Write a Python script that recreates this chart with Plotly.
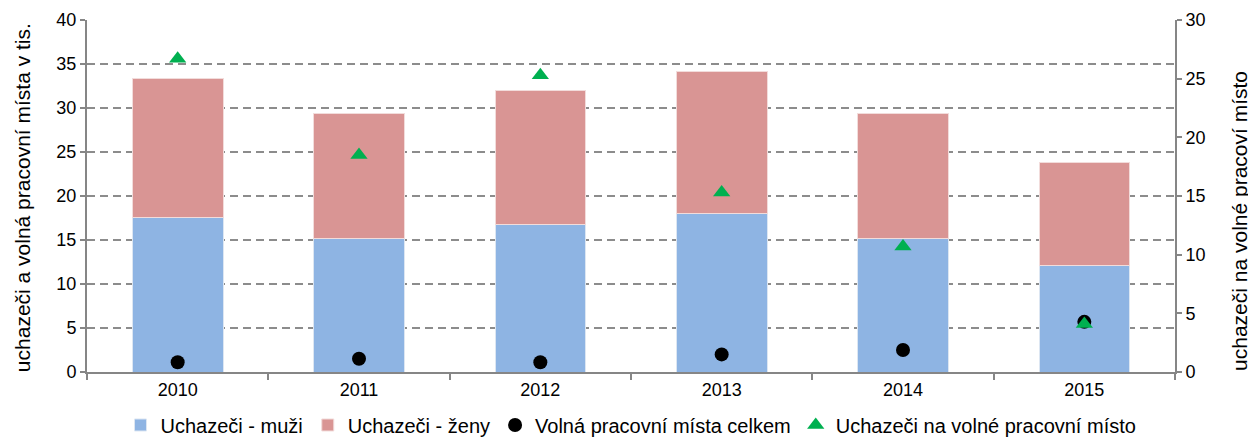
import plotly.graph_objects as go

years = ["2010", "2011", "2012", "2013", "2014", "2015"]
muzi = [17.6, 15.2, 16.8, 18.0, 15.2, 12.1]
zeny = [15.8, 14.2, 15.2, 16.1, 14.2, 11.7]
volna_mista = [1.1, 1.5, 1.1, 2.0, 2.5, 5.7]
uchazeci_na_misto = [26.7, 18.5, 25.3, 15.3, 10.7, 4.1]

left_ticks = [0, 5, 10, 15, 20, 25, 30, 35, 40]
right_ticks = [0, 5, 10, 15, 20, 25, 30]
left_title = "uchazeči a volná pracovní místa v tis."
right_title = "uchazeči na volné pracoví místo"

font_family = "Liberation Sans, Arial, sans-serif"
axis_color = "#868686"

fig = go.Figure()
fig.add_trace(go.Bar(x=years, y=muzi, name="Uchazeči - muži",
                     marker=dict(color="#8EB4E3", line=dict(color="#DCE6F2", width=1))))
fig.add_trace(go.Bar(x=years, y=zeny, name="Uchazeči - ženy",
                     marker=dict(color="#D99594", line=dict(color="#F2DCDB", width=1))))
fig.add_trace(go.Scatter(x=years, y=volna_mista, name="Volná pracovní místa celkem",
                         mode="markers", marker=dict(symbol="circle", size=14, color="black")))
fig.add_trace(go.Scatter(x=years, y=uchazeci_na_misto, name="Uchazeči na volné pracovní místo",
                         mode="markers", yaxis="y2",
                         marker=dict(symbol="triangle-up", size=15, color="#00B050")))

fig.update_layout(
    width=1248, height=429,
    margin=dict(l=79, r=81, t=12, b=65),
    barmode="stack", bargap=0.5,
    plot_bgcolor="white", paper_bgcolor="white",
    font=dict(family=font_family, size=18, color="black"),
    showlegend=True,
    legend=dict(orientation="h", x=0.5, xanchor="center", xref="paper",
                y=0.028, yanchor="middle", yref="container",
                font=dict(size=20), itemwidth=30, traceorder="normal", tracegroupgap=0),
    xaxis=dict(type="category", showline=True, linecolor=axis_color, linewidth=2,
               ticks="outside", tickson="boundaries", ticklen=6, tickcolor=axis_color,
               tickwidth=2, tickfont=dict(size=18), showgrid=False, automargin=False),
    yaxis=dict(range=[0, 40], tickvals=left_ticks, showline=True, linecolor=axis_color,
               linewidth=2, ticks="outside", ticklen=5, tickcolor=axis_color, tickwidth=2,
               showgrid=True, gridcolor="#8C8C8C", griddash="8px,5px", gridwidth=1.8,
               zeroline=False, tickfont=dict(size=18), automargin=False),
    yaxis2=dict(range=[0, 30], tickvals=right_ticks, overlaying="y", side="right",
                showline=True, linecolor=axis_color, linewidth=2, ticks="outside",
                ticklen=5, tickcolor=axis_color, tickwidth=2, showgrid=False, zeroline=False,
                tickfont=dict(size=18), automargin=False),
    annotations=[
        dict(text=left_title, textangle=-90, xref="paper", yref="paper",
             x=-0.0597, y=0.494, xanchor="center", yanchor="middle", showarrow=False,
             font=dict(size=21)),
        dict(text=right_title, textangle=-90, xref="paper", yref="paper",
             x=1.0597, y=0.429, xanchor="center", yanchor="middle", showarrow=False,
             font=dict(size=21)),
    ],
)

fig.write_html("out.html")
